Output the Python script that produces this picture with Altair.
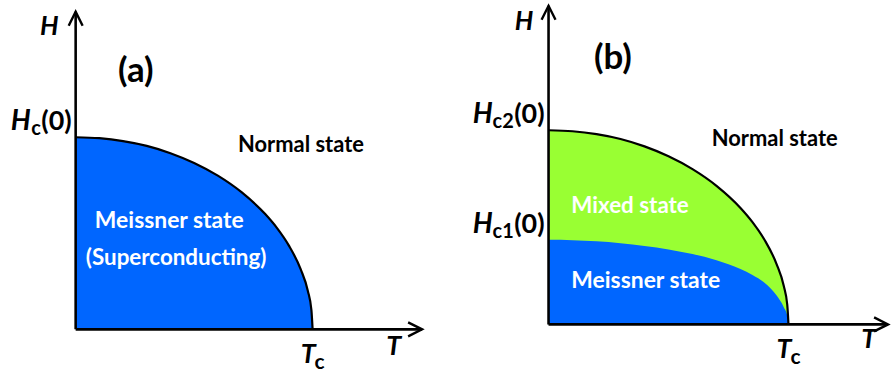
import altair as alt
import pandas as pd

# Critical-field boundaries. T is in units of Tc, H in units of the zero-temperature field.
t_pts = [0.0, 0.1, 0.2, 0.3, 0.4, 0.5, 0.6, 0.7, 0.8, 0.85, 0.9, 0.95, 0.98, 0.995, 1.0]
# Hc(T) in panel (a) and Hc2(T) in panel (b)
h_upper = [1.0, 0.995, 0.98, 0.955, 0.917, 0.866, 0.80, 0.714, 0.60, 0.527, 0.436, 0.312, 0.20, 0.10, 0.0]
# Hc1(T) in panel (b), relative to Hc2(0)
h_lower = [0.436, 0.434, 0.428, 0.418, 0.404, 0.386, 0.362, 0.330, 0.285, 0.255, 0.215, 0.150, 0.09, 0.045, 0.0]

BLUE = "#0066FF"
GREEN = "#99FF33"
FONT = "Lato"

upper = pd.DataFrame({"T": t_pts, "H": h_upper})
lower = pd.DataFrame({"T": t_pts, "H": h_lower})


def scales(tdom, hdom):
    x = alt.Scale(domain=tdom, nice=False, zero=False)
    y = alt.Scale(domain=hdom, nice=False, zero=False)
    return x, y


def enc(xs, ys, **kw):
    return dict(x=alt.X("T:Q", scale=xs, axis=None),
                y=alt.Y("H:Q", scale=ys, axis=None), **kw)


def text_layer(xs, ys, text, t, h, size, color="black", italic=False,
               align="left", dx=0, dy=0):
    df = pd.DataFrame({"T": [t], "H": [h], "label": [text]})
    return alt.Chart(df).mark_text(
        font=FONT, fontWeight="bold", fontStyle="italic" if italic else "normal",
        fontSize=size, color=color, align=align, baseline="alphabetic",
        dx=dx, dy=dy,
    ).encode(**enc(xs, ys, text="label:N"))


def axes(xs, ys, t_end, h_end):
    axis_df = pd.DataFrame({"T": [0.0, 0.0], "H": [0.0, 0.0],
                            "T2": [t_end, 0.0], "H2": [0.0, h_end]})
    lines = alt.Chart(axis_df).mark_rule(color="black", strokeWidth=2.6).encode(
        x=alt.X("T:Q", scale=xs, axis=None), y=alt.Y("H:Q", scale=ys, axis=None),
        x2="T2:Q", y2="H2:Q")
    right_tip = alt.Chart(pd.DataFrame({"T": [t_end], "H": [0.0]})).mark_point(
        shape="M -1 -0.5 L 0 0 L -1 0.5", filled=False, size=784,
        stroke="black", strokeWidth=2.4, opacity=1).encode(**enc(xs, ys))
    up_tip = alt.Chart(pd.DataFrame({"T": [0.0], "H": [h_end]})).mark_point(
        shape="M -0.5 1 L 0 0 L 0.5 1", filled=False, size=784,
        stroke="black", strokeWidth=2.4, opacity=1).encode(**enc(xs, ys))
    return [lines, right_tip, up_tip]


def hzero_label(xs, ys, h0, sub, sub_width):
    # "H_sub(0)" label, right-aligned just left of the H axis at H = h0
    return [
        text_layer(xs, ys, "(0)", 0, h0, 27, align="right", dx=-4, dy=-7),
        text_layer(xs, ys, sub, 0, h0, 20, align="right", dx=-35, dy=-2),
        text_layer(xs, ys, "H", 0, h0, 28, italic=True, align="right",
                   dx=-36 - sub_width, dy=-7),
    ]


def tc_label(xs, ys):
    return [
        text_layer(xs, ys, "T", 1, 0, 27, italic=True, dx=-12, dy=34),
        text_layer(xs, ys, "c", 1, 0, 21, dx=2, dy=40),
    ]


# ---------- panel (a): type-I superconductor ----------
xa, ya = scales([-0.3193, 1.5714], [-0.2332, 1.7047])
a_fill = alt.Chart(upper).mark_area(color=BLUE, interpolate="monotone", opacity=1).encode(
    **enc(xa, ya, y2=alt.datum(0)))
a_edge = alt.Chart(upper).mark_line(color="black", strokeWidth=2.2, interpolate="monotone").encode(
    **enc(xa, ya))
panel_a = alt.layer(
    a_fill, a_edge, *axes(xa, ya, 1.462, 1.653),
    text_layer(xa, ya, "H", -0.151, 1.534, 26, italic=True),
    text_layer(xa, ya, "(a)", 0.254, 1.29, 35, align="center"),
    *hzero_label(xa, ya, h_upper[0], "c", 9),
    text_layer(xa, ya, "Normal state", 0.685, 0.922, 22),
    text_layer(xa, ya, "Meissner state", 0.395, 0.528, 23, color="white", align="center"),
    text_layer(xa, ya, "(Superconducting)", 0.424, 0.337, 22.5, color="white", align="center"),
    *tc_label(xa, ya),
    text_layer(xa, ya, "T", 1.311, -0.135, 27, italic=True),
).properties(width=450, height=374)

# ---------- panel (b): type-II superconductor ----------
xb, yb = scales([-0.4191, 1.4191], [-0.2564, 1.6615])
b_mixed = alt.Chart(upper).mark_area(color=GREEN, interpolate="monotone", opacity=1).encode(
    **enc(xb, yb, y2=alt.datum(0)))
b_meissner = alt.Chart(lower).mark_area(color=BLUE, interpolate="monotone", opacity=1).encode(
    **enc(xb, yb, y2=alt.datum(0)))
b_edge = alt.Chart(upper).mark_line(color="black", strokeWidth=2.2, interpolate="monotone").encode(
    **enc(xb, yb))
panel_b = alt.layer(
    b_mixed, b_meissner, b_edge, *axes(xb, yb, 1.415, 1.641),
    text_layer(xb, yb, "H", -0.141, 1.518, 26, italic=True),
    text_layer(xb, yb, "(b)", 0.268, 1.313, 35, align="center"),
    *hzero_label(xb, yb, h_upper[0], "c2", 20),
    *hzero_label(xb, yb, h_lower[0], "c1", 20),
    text_layer(xb, yb, "Normal state", 0.68, 0.918, 22),
    text_layer(xb, yb, "Mixed state", 0.095, 0.574, 22.5, color="white"),
    text_layer(xb, yb, "Meissner state", 0.095, 0.19, 23, color="white"),
    *tc_label(xb, yb),
    text_layer(xb, yb, "T", 1.303, -0.123, 27, italic=True),
).properties(width=443, height=374)

chart = alt.hconcat(panel_a, panel_b, spacing=0, bounds="flush").properties(
    padding=0
).configure_view(stroke=None)

chart.save("out.html", embed_options={"renderer": "svg", "actions": False})
